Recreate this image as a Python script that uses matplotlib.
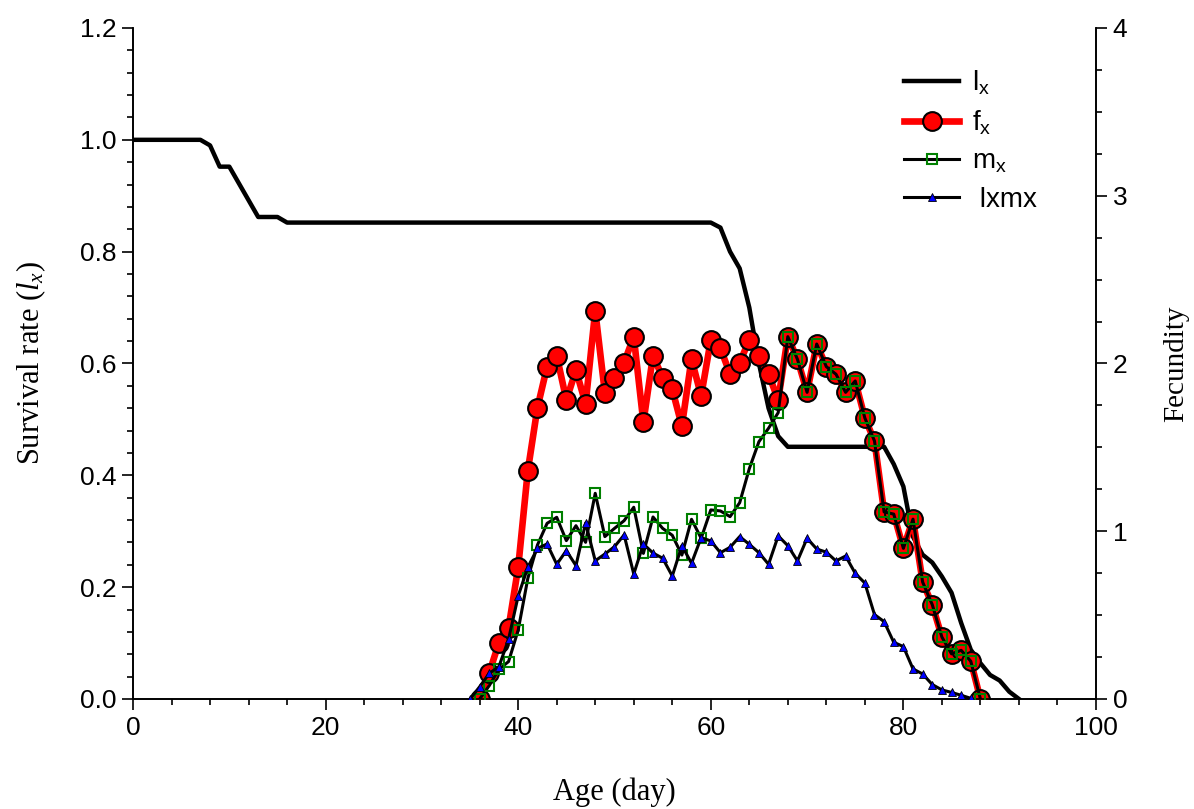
import numpy as np
import matplotlib
matplotlib.use("Agg")
import matplotlib.pyplot as plt
from matplotlib.ticker import MultipleLocator, FormatStrFormatter

plt.rcParams['font.family'] = 'Liberation Sans'
plt.rcParams['mathtext.fontset'] = 'custom'
plt.rcParams['mathtext.it'] = 'Liberation Serif:italic'
plt.rcParams['mathtext.rm'] = 'Liberation Sans'
plt.rcParams['mathtext.default'] = 'regular'

# survival rate lx, day 0..92
lx_days = list(range(0, 93))
lx = [1.0, 1.0, 1.0, 1.0, 1.0, 1.0, 1.0, 1.0, 0.99, 0.952,
      0.952, 0.922, 0.892, 0.862, 0.862, 0.862, 0.852, 0.852, 0.852, 0.852,
      0.852, 0.852, 0.852, 0.852, 0.852, 0.852, 0.852, 0.852, 0.852, 0.852,
      0.852, 0.852, 0.852, 0.852, 0.852, 0.852, 0.852, 0.852, 0.852, 0.852,
      0.852, 0.852, 0.852, 0.852, 0.852, 0.852, 0.852, 0.852, 0.852, 0.852,
      0.852, 0.852, 0.852, 0.852, 0.852, 0.852, 0.852, 0.852, 0.852, 0.852,
      0.852, 0.843, 0.80, 0.77, 0.70, 0.60, 0.52, 0.47, 0.451, 0.451,
      0.451, 0.451, 0.451, 0.451, 0.451, 0.451, 0.451, 0.451, 0.451, 0.42,
      0.38, 0.29, 0.258, 0.244, 0.219, 0.19, 0.136, 0.088, 0.064, 0.043,
      0.033, 0.013, 0.0]

# female fecundity fx, day 36..88
fx_days = list(range(36, 89))
fx = [0.0, 0.157, 0.336, 0.425, 0.785, 1.361, 1.737, 1.981, 2.047, 1.782,
      1.961, 1.759, 2.315, 1.826, 1.915, 2.005, 2.160, 1.649, 2.047, 1.915,
      1.846, 1.627, 2.027, 1.806, 2.140, 2.091, 1.937, 2.005, 2.140, 2.045,
      1.937, 1.782, 2.160, 2.025, 1.828, 2.116, 1.981, 1.936, 1.828, 1.896,
      1.675, 1.538, 1.115, 1.102, 0.898, 1.072, 0.697, 0.562, 0.369, 0.269,
      0.290, 0.225, 0.0]

# mx, day 36..88
mx_days = list(range(36, 89))
mx = [0.0, 0.080, 0.177, 0.223, 0.411, 0.719, 0.918, 1.047, 1.083, 0.944,
      1.033, 0.934, 1.226, 0.968, 1.017, 1.063, 1.143, 0.868, 1.085, 1.017,
      0.976, 0.858, 1.071, 0.958, 1.127, 1.121, 1.087, 1.170, 1.373, 1.534,
      1.614, 1.707, 2.160, 2.025, 1.828, 2.116, 1.981, 1.936, 1.828, 1.896,
      1.675, 1.538, 1.115, 1.102, 0.898, 1.072, 0.697, 0.562, 0.369, 0.269,
      0.290, 0.225, 0.0]

# lxmx, day 35..87
lxmx_days = list(range(35, 88))
lxmx = [0.0, 0.073, 0.153, 0.193, 0.356, 0.614, 0.785, 0.898, 0.924, 0.803,
        0.884, 0.795, 1.049, 0.824, 0.864, 0.908, 0.978, 0.745, 0.924, 0.870,
        0.839, 0.733, 0.914, 0.809, 0.962, 0.942, 0.872, 0.904, 0.968, 0.922,
        0.872, 0.803, 0.972, 0.914, 0.823, 0.958, 0.894, 0.875, 0.823, 0.852,
        0.749, 0.691, 0.503, 0.461, 0.338, 0.312, 0.179, 0.149, 0.086, 0.054,
        0.039, 0.022, 0.004]

fig = plt.figure(figsize=(11.94, 8.09), dpi=100)
ax1 = fig.add_axes([0.1114, 0.136, 0.8065, 0.8294])
ax2 = ax1.twinx()

l1, = ax1.plot(lx_days, lx, color='black', lw=3.2, label='l$_x$', zorder=3)
l2, = ax2.plot(fx_days, fx, color='red', lw=4.8, marker='o', ms=13.5,
               mfc='red', mec='black', mew=1.5, label='f$_x$', zorder=2)
l3, = ax2.plot(mx_days, mx, color='black', lw=2.2, marker='s', ms=6.5,
               mfc='none', mec='green', mew=1.5, label='m$_x$', zorder=3)
l4, = ax2.plot(lxmx_days, lxmx, color='black', lw=2.2, marker='^', ms=6,
               mfc='blue', mec='black', mew=0.6, label=' lxmx', zorder=4)

ax1.set_xlim(0, 100)
ax1.set_ylim(0, 1.2)
ax2.set_ylim(0, 4)

ax1.xaxis.set_major_locator(MultipleLocator(20))
ax1.xaxis.set_minor_locator(MultipleLocator(4))
ax1.yaxis.set_major_locator(MultipleLocator(0.2))
ax1.yaxis.set_minor_locator(MultipleLocator(0.04))
ax1.yaxis.set_major_formatter(FormatStrFormatter('%.1f'))
ax2.yaxis.set_major_locator(MultipleLocator(1))
ax2.yaxis.set_minor_locator(MultipleLocator(0.25))

for ax in (ax1, ax2):
    ax.spines['top'].set_visible(False)
    for s in ax.spines.values():
        s.set_linewidth(1.2)
    ax.tick_params(which='major', direction='out', length=8, width=1.2,
                   labelsize=19, pad=4)
    ax.tick_params(which='minor', direction='out', length=4.5, width=1.2)

ax1.set_xlabel('Age (day)', family='Liberation Serif', fontsize=22, labelpad=27)
ax1.set_ylabel('Survival rate ($\\mathit{l_x}$)', family='Liberation Serif',
               fontsize=22, labelpad=23)
ax2.set_ylabel('Fecundity', family='Liberation Serif', fontsize=21, labelpad=26)

leg = ax2.legend(handles=[l1, l2, l3, l4], loc='upper left',
                 bbox_to_anchor=(0.775, 0.977), frameon=False, fontsize=20,
                 handlelength=1.97, labelspacing=0.42, handletextpad=0.45)

fig.savefig('out.png', dpi=100)
